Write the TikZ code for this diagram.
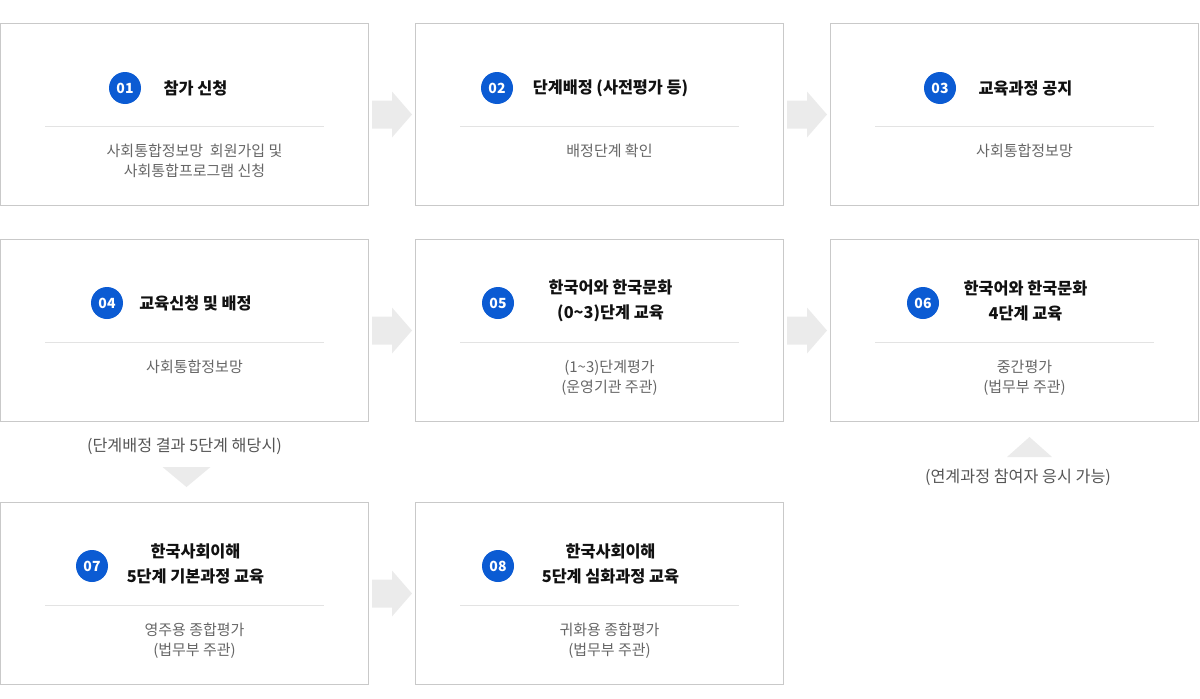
\documentclass[tikz,border=0pt]{standalone}
\usepackage{fontspec}
\setmainfont{Noto Sans CJK KR}
\usetikzlibrary{calc,positioning}

\definecolor{numblue}{HTML}{0B5BD3}
\definecolor{boxgray}{HTML}{C9C9C9}
\definecolor{sepgray}{HTML}{E3E3E3}
\definecolor{arrowgray}{HTML}{EBEBEB}
\definecolor{subgray}{HTML}{666666}
\definecolor{notegray}{HTML}{555555}
\definecolor{titleblack}{HTML}{111111}

\tikzset{
  stepbox/.style={draw=boxgray, line width=1pt, minimum width=368pt, minimum height=182pt, inner sep=0pt},
  num/.style={circle, fill=numblue, text=white, minimum size=32pt, inner sep=0pt, font=\bfseries\fontsize{14}{14}\selectfont},
  steptitle/.style={align=center, inner sep=0pt, text=titleblack, font=\bfseries\fontsize{16.3}{25}\selectfont},
  stepsub/.style={align=center, anchor=north, inner sep=0pt, text=subgray, font=\fontsize{15}{20}\selectfont},
  stepnote/.style={inner sep=0pt, text=notegray, font=\fontsize{16.2}{20}\selectfont},
  sepline/.style={draw=sepgray, line width=1pt},
  rarrow/.pic={\fill[arrowgray] (-20,-14) -- (0,-14) -- (0,-23) -- (20,0) -- (0,23) -- (0,14) -- (-20,14) -- cycle;},
}

\begin{document}
\begin{tikzpicture}[x=1pt, y=-1pt]
  \useasboundingbox (0,0) rectangle (1200,699);

  % boxes
  \node[stepbox] (b1) at (184.5,114.5) {};
  \node[stepbox] (b2) at (599.5,114.5) {};
  \node[stepbox] (b3) at (1014.5,114.5) {};
  \node[stepbox] (b4) at (184.5,330.5) {};
  \node[stepbox] (b5) at (599.5,330.5) {};
  \node[stepbox] (b6) at (1014.5,330.5) {};
  \node[stepbox] (b7) at (184.5,593.5) {};
  \node[stepbox] (b8) at (599.5,593.5) {};

  \foreach \b in {b1,b2,b3,b4,b5,b6,b7,b8}
    \draw[sepline] ($(\b.north west)+(45,103)$) -- ($(\b.north east)+(-45,103)$);

  % numbers
  \node[num] (n1) at ($(b1.north west)+(125,65)$) {01};
  \node[num] (n2) at ($(b2.north west)+(82,65)$) {02};
  \node[num] (n3) at ($(b3.north west)+(110,65)$) {03};
  \node[num] (n4) at ($(b4.north west)+(107,64)$) {04};
  \node[num] (n5) at ($(b5.north west)+(83,64)$) {05};
  \node[num] (n6) at ($(b6.north west)+(93,64)$) {06};
  \node[num] (n7) at ($(b7.north west)+(92,64)$) {07};
  \node[num] (n8) at ($(b8.north west)+(83,64)$) {08};

  % titles
  \node[steptitle] (t1) at ($(b1.north)+(11,65)$) {참가 신청};
  \node[steptitle] (t2) at ($(b2.north)+(11,65)$) {단계배정 (사전평가 등)};
  \node[steptitle] (t3) at ($(b3.north)+(11,65)$) {교육과정 공지};
  \node[steptitle] (t4) at ($(b4.north)+(11,64)$) {교육신청 및 배정};
  \node[steptitle] (t5) at ($(b5.north)+(11,62)$) {한국어와 한국문화\\(0\textasciitilde3)단계 교육};
  \node[steptitle] (t6) at ($(b6.north)+(11,62)$) {한국어와 한국문화\\4단계 교육};
  \node[steptitle] (t7) at ($(b7.north)+(11,62)$) {한국사회이해\\5단계 기본과정 교육};
  \node[steptitle] (t8) at ($(b8.north)+(11,62)$) {한국사회이해\\5단계 심화과정 교육};

  % texts below the line
  \node[stepsub] (s1) at ($(b1.north)+(10,121)$) {사회통합정보망\ \ 회원가입 및\\사회통합프로그램 신청};
  \node[stepsub] (s2) at ($(b2.north)+(10,121)$) {배정단계 확인};
  \node[stepsub] (s3) at ($(b3.north)+(10,121)$) {사회통합정보망};
  \node[stepsub] (s4) at ($(b4.north)+(10,121)$) {사회통합정보망};
  \node[stepsub] (s5) at ($(b5.north)+(10,121)$) {(1\textasciitilde3)단계평가\\(운영기관 주관)};
  \node[stepsub] (s6) at ($(b6.north)+(10,121)$) {중간평가\\(법무부 주관)};
  \node[stepsub] (s7) at ($(b7.north)+(10,121)$) {영주용 종합평가\\(법무부 주관)};
  \node[stepsub] (s8) at ($(b8.north)+(10,121)$) {귀화용 종합평가\\(법무부 주관)};

  % arrows
  \pic at ($(b1.east)!.5!(b2.west)$) {rarrow};
  \pic at ($(b2.east)!.5!(b3.west)$) {rarrow};
  \pic at ($(b4.east)!.5!(b5.west)$) {rarrow};
  \pic at ($(b5.east)!.5!(b6.west)$) {rarrow};
  \pic at ($(b7.east)!.5!(b8.west)$) {rarrow};

  % notes
  \node[stepnote] (c7) at ($(b4.south)+(0,24)$) {(단계배정 결과 5단계 해당시)};
  \fill[arrowgray] ($(b4.south)+(-22,45)$) -- ($(b4.south)+(26,45)$) -- ($(b4.south)+(2,65)$) -- cycle;

  \node[stepnote] (c6) at ($(b6.south)+(3.5,55)$) {(연계과정 참여자 응시 가능)};
  \fill[arrowgray] ($(b6.south)+(-7.5,35)$) -- ($(b6.south)+(37.5,35)$) -- ($(b6.south)+(15,15)$) -- cycle;
\end{tikzpicture}
\end{document}
